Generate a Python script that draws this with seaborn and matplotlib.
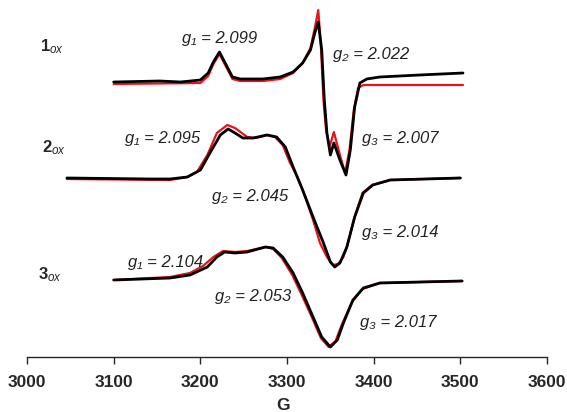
import numpy as np
import pandas as pd
import seaborn as sns
import matplotlib
matplotlib.use("Agg")
import matplotlib.pyplot as plt

# EPR spectra (field in G, stacked intensity in a.u.)
f1_exp = [3100, 3153, 3177, 3200, 3209, 3215, 3222, 3228, 3237, 3246, 3272, 3292, 3307, 3318,
          3327, 3332, 3336, 3340, 3343, 3346, 3350, 3354, 3361, 3368, 3373, 3378, 3384, 3392,
          3407, 3453, 3503]
i1_exp = [2.75, 2.76, 2.75, 2.77, 2.84, 2.95, 3.05, 2.95, 2.80, 2.78, 2.78, 2.80, 2.85, 2.94,
          3.07, 3.24, 3.35, 3.07, 2.57, 2.24, 2.02, 2.14, 1.97, 1.82, 2.07, 2.50, 2.74, 2.78,
          2.80, 2.82, 2.84]
f1_sim = [3100, 3200, 3209, 3215, 3222, 3228, 3237, 3246, 3272, 3292, 3307, 3318, 3327, 3332,
          3336, 3339, 3342, 3345, 3349, 3354, 3361, 3367, 3372, 3377, 3382, 3388, 3503]
i1_sim = [2.73, 2.74, 2.81, 2.93, 3.03, 2.93, 2.78, 2.76, 2.76, 2.78, 2.84, 2.94, 3.09, 3.29,
          3.47, 3.12, 2.57, 2.27, 2.10, 2.25, 2.02, 1.84, 2.07, 2.47, 2.69, 2.72, 2.72]

f2_exp = [3046, 3142, 3165, 3185, 3200, 3211, 3223, 3232, 3240, 3249, 3261, 3277, 3288, 3298,
          3307, 3318, 3330, 3342, 3350, 3355, 3361, 3369, 3378, 3388, 3399, 3419, 3500]
i2_exp = [1.79, 1.78, 1.78, 1.80, 1.87, 2.04, 2.22, 2.28, 2.24, 2.19, 2.19, 2.22, 2.20, 2.10,
          1.90, 1.67, 1.40, 1.14, 0.95, 0.90, 0.94, 1.10, 1.40, 1.64, 1.72, 1.77, 1.79]
f2_sim = [3046, 3165, 3185, 3196, 3208, 3219, 3231, 3240, 3254, 3264, 3277, 3286, 3295, 3303,
          3312, 3321, 3330, 3338, 3346, 3353, 3359, 3365, 3369, 3378, 3387, 3398, 3419, 3500]
i2_sim = [1.78, 1.77, 1.80, 1.85, 2.02, 2.24, 2.32, 2.29, 2.20, 2.19, 2.22, 2.20, 2.12, 1.95,
          1.80, 1.60, 1.37, 1.14, 1.00, 0.92, 0.93, 1.00, 1.10, 1.40, 1.64, 1.72, 1.77, 1.79]

f3_exp = [3100, 3165, 3188, 3208, 3219, 3228, 3240, 3254, 3275, 3284, 3295, 3307, 3318, 3330,
          3340, 3350, 3358, 3365, 3376, 3388, 3407, 3502]
i3_exp = [0.77, 0.79, 0.82, 0.90, 1.00, 1.05, 1.04, 1.05, 1.10, 1.09, 1.00, 0.84, 0.64, 0.40,
          0.20, 0.10, 0.17, 0.34, 0.57, 0.69, 0.74, 0.76]
f3_sim = [3100, 3165, 3188, 3203, 3215, 3226, 3240, 3254, 3275, 3284, 3294, 3306, 3317, 3329,
          3339, 3348, 3356, 3363, 3375, 3387, 3407, 3502]
i3_sim = [0.77, 0.80, 0.84, 0.91, 1.00, 1.06, 1.05, 1.06, 1.10, 1.08, 0.99, 0.82, 0.62, 0.39,
          0.19, 0.10, 0.16, 0.32, 0.55, 0.68, 0.74, 0.76]

compounds = ["1", "2", "3"]
compound_pos = [(3015, 3.10), (3017, 2.09), (3013, 0.82)]

g_labels = ["g\u2081 = 2.099", "g\u2082 = 2.022", "g\u2083 = 2.007",
            "g\u2081 = 2.095", "g\u2082 = 2.045", "g\u2083 = 2.014",
            "g\u2081 = 2.104", "g\u2082 = 2.053", "g\u2083 = 2.017"]
g_pos = [(3179, 3.18), (3353, 3.02), (3387, 2.19),
         (3113, 2.19), (3213, 1.60), (3387, 1.25),
         (3117, 0.95), (3217, 0.60), (3384, 0.35)]

ticks = [3000, 3100, 3200, 3300, 3400, 3500, 3600]

rows = []
for name, f, i in [("1", f1_sim, i1_sim), ("2", f2_sim, i2_sim), ("3", f3_sim, i3_sim)]:
    rows.append(pd.DataFrame({"field": f, "intensity": i, "trace": name, "kind": "sim"}))
for name, f, i in [("1", f1_exp, i1_exp), ("2", f2_exp, i2_exp), ("3", f3_exp, i3_exp)]:
    rows.append(pd.DataFrame({"field": f, "intensity": i, "trace": name, "kind": "exp"}))
df = pd.concat(rows, ignore_index=True)

sns.set_style("white")
plt.rcParams["font.family"] = ["Liberation Sans", "DejaVu Sans"]
plt.rcParams["mathtext.fontset"] = "custom"
plt.rcParams["mathtext.it"] = "Liberation Sans:italic"
plt.rcParams["mathtext.bf"] = "Liberation Sans:bold"
plt.rcParams["mathtext.rm"] = "Liberation Sans"

fig = plt.figure(figsize=(5.67, 4.12), dpi=100)
ax = fig.add_axes([0, 0, 1, 1])

sns.lineplot(data=df[df.kind == "sim"], x="field", y="intensity", units="trace",
             estimator=None, sort=False, color="#e8141c", lw=1.6, ax=ax)
sns.lineplot(data=df[df.kind == "exp"], x="field", y="intensity", units="trace",
             estimator=None, sort=False, color="black", lw=2.0, ax=ax)

for c, (x, y) in zip(compounds, compound_pos):
    ax.text(x, y, r"$\mathbf{%s}_{\mathit{ox}}$" % c, fontsize=12, va="center", ha="left")

for lab, (x, y) in zip(g_labels, g_pos):
    ax.text(x, y, lab, fontsize=12, style="italic", va="center", ha="left",
            color="#222222", family=["Liberation Sans", "DejaVu Sans"])

ax.set_xlim(2968.8, 3623)
ax.set_ylim(-0.55, 3.57)
for s in ["left", "right", "top"]:
    ax.spines[s].set_visible(False)
ax.spines["bottom"].set_position(("data", 0))
ax.spines["bottom"].set_bounds(3000, 3600)
ax.spines["bottom"].set_linewidth(1.0)
ax.set_xticks(ticks)
ax.set_xticklabels([str(t) for t in ticks], fontweight="bold", fontsize=12.5)
ax.tick_params(axis="x", direction="out", length=5, width=1, pad=8, bottom=True)
ax.set_yticks([])
ax.set_ylabel("")
ax.set_xlabel("G", fontweight="bold", fontsize=12.5, labelpad=6)

fig.savefig("out.png", dpi=100)
